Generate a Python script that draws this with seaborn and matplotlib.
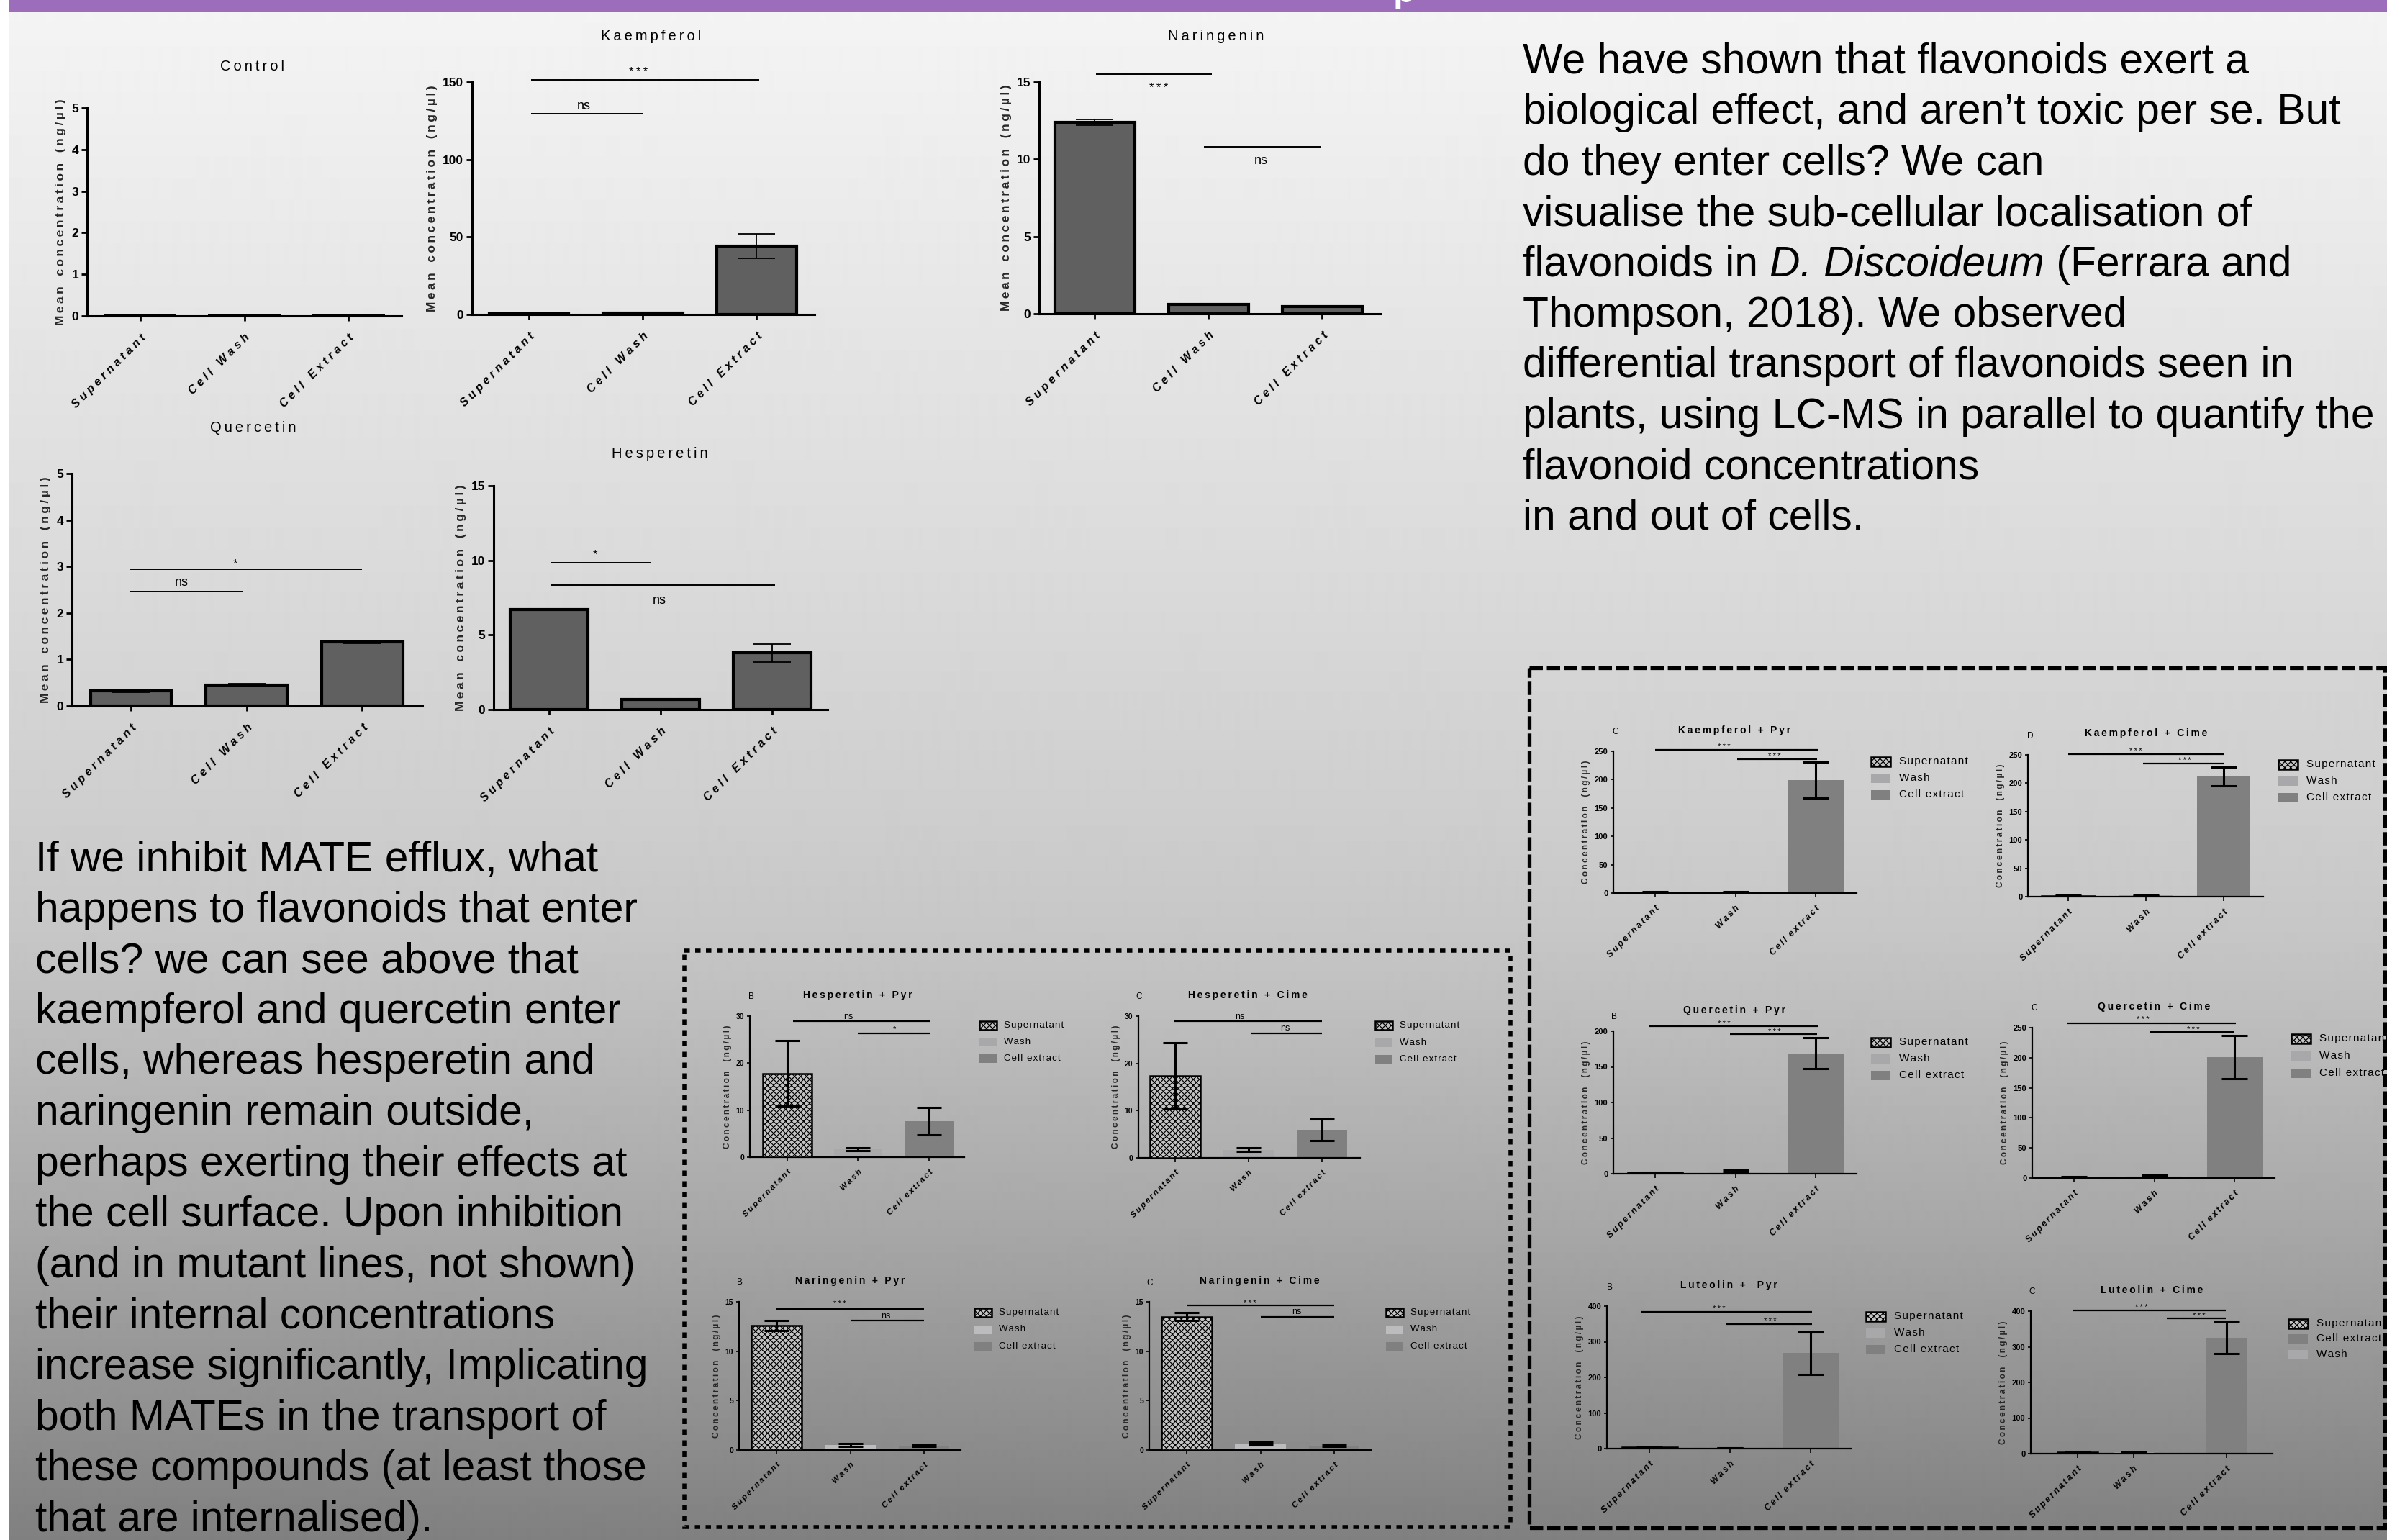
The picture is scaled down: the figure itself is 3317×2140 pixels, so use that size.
import numpy as np
import pandas as pd
import matplotlib
matplotlib.use("Agg")
import matplotlib.pyplot as plt
from matplotlib.patches import Rectangle
import seaborn as sns

# ---------------- data: top row (uptake of each flavonoid) ----------------
top_cats = ["Supernatant", "Cell Wash", "Cell Extract"]

control_mean = [0.0, 0.0, 0.0]
control_err = [0.0, 0.0, 0.0]
kaempferol_mean = [0.6, 1.0, 44.0]
kaempferol_err = [0.2, 0.3, 8.0]
naringenin_mean = [12.4, 0.6, 0.45]
naringenin_err = [0.2, 0.05, 0.05]
quercetin_mean = [0.33, 0.45, 1.37]
quercetin_err = [0.03, 0.03, 0.02]
hesperetin_mean = [6.7, 0.68, 3.8]
hesperetin_err = [0.05, 0.03, 0.6]

# significance bars: (x from, x to, height, label, label x, label y)
control_sig = []
kaempferol_sig = [(0.02, 2.02, 151.5, "***", 0.96, 156.5), (0.02, 1.0, 129.5, "ns", 0.48, 134.5)]
naringenin_sig = [(0.01, 1.03, 15.5, "***", 0.56, 14.6), (0.96, 1.99, 10.8, "ns", 1.46, 9.9)]
quercetin_sig = [(-0.01, 2.0, 2.94, "*", 0.9, 3.05), (-0.01, 0.97, 2.46, "ns", 0.44, 2.66)]
hesperetin_sig = [(0.01, 0.91, 9.84, "*", 0.41, 10.4), (0.01, 2.03, 8.34, "ns", 0.99, 7.33)]

# ---------------- data: MATE inhibitor panels ----------------
inh_cats = ["Supernatant", "Wash", "Cell extract"]

hesp_pyr_mean = [17.8, 1.7, 7.7]
hesp_pyr_err = [7.0, 0.3, 2.9]
hesp_cime_mean = [17.3, 1.7, 5.9]
hesp_cime_err = [7.0, 0.4, 2.3]
nar_pyr_mean = [12.6, 0.5, 0.45]
nar_pyr_err = [0.5, 0.12, 0.08]
nar_cime_mean = [13.5, 0.65, 0.45]
nar_cime_err = [0.4, 0.15, 0.1]
kaem_pyr_mean = [1.5, 1.5, 199.0]
kaem_pyr_err = [0.5, 0.5, 31.5]
kaem_cime_mean = [1.5, 2.0, 212.0]
kaem_cime_err = [0.5, 0.8, 17.0]
quer_pyr_mean = [2.0, 3.5, 169.0]
quer_pyr_err = [0.5, 1.5, 22.0]
quer_cime_mean = [1.5, 3.0, 201.0]
quer_cime_err = [0.5, 1.5, 36.0]
lut_pyr_mean = [3.5, 3.0, 268.0]
lut_pyr_err = [1.0, 0.0, 59.0]
lut_cime_mean = [4.0, 5.0, 326.0]
lut_cime_err = [1.5, 0.0, 45.0]
lut_cime_pos = [0.0, 0.75, 2.0]

hesp_pyr_sig = [(0.08, 2.01, 28.9, "ns", 0.86, 29.9), (1.0, 2.01, 26.4, "*", 1.51, 27.3)]
hesp_cime_sig = [(-0.02, 2.0, 28.9, "ns", 0.88, 29.9), (1.04, 2.0, 26.4, "ns", 1.5, 27.4)]
nar_pyr_sig = [(0.0, 2.0, 14.3, "***", 0.86, 14.75), (1.0, 2.0, 13.1, "ns", 1.48, 13.55)]
nar_cime_sig = [(0.0, 2.0, 14.6, "***", 0.86, 14.85), (1.0, 2.0, 13.5, "ns", 1.49, 13.95)]
kaem_pyr_sig = [(0.0, 2.03, 253, "***", 0.86, 257), (1.02, 2.02, 236.6, "***", 1.49, 240.6)]
kaem_cime_sig = [(0.0, 2.0, 251, "***", 0.87, 256), (0.96, 2.0, 235, "***", 1.5, 240)]
quer_pyr_sig = [(-0.08, 2.03, 207, "***", 0.86, 210.5), (0.93, 2.02, 196, "***", 1.49, 199)]
quer_cime_sig = [(-0.09, 2.02, 257.5, "***", 0.86, 263), (0.95, 2.0, 242.4, "***", 1.49, 246)]
lut_pyr_sig = [(-0.1, 2.02, 383, "***", 0.86, 392), (0.95, 2.02, 350, "***", 1.5, 358)]
lut_cime_sig = [(-0.06, 1.99, 403, "***", 0.86, 411), (1.2, 1.99, 379, "***", 1.63, 385)]

left_text = [
    "If we inhibit MATE efflux, what",
    "happens to flavonoids that enter",
    "cells? we can see above that",
    "kaempferol and quercetin enter",
    "cells, whereas hesperetin and",
    "naringenin remain outside,",
    "perhaps exerting their effects at",
    "the cell surface. Upon inhibition",
    "(and in mutant lines, not shown)",
    "their internal concentrations",
    "increase significantly, Implicating",
    "both MATEs in the transport of",
    "these compounds (at least those",
    "that are internalised).",
]
right_text = [
    "We have shown that flavonoids exert a",
    "biological effect, and aren\u2019t toxic per se. But",
    "do they enter cells? We can",
    "visualise the sub-cellular localisation of",
    None,
    "Thompson, 2018). We observed",
    "differential transport of flavonoids seen in",
    "plants, using LC-MS in parallel to quantify the",
    "flavonoid concentrations",
    "in and out of cells.",
]
italic_line = ("flavonoids in", "D. Discoideum", " (Ferrara and")

# ---------------- style ----------------
W, H = 3317, 2140
THIN = "\u2009"
HAIR = "\u200a"
BAR_DARK = "#606060"
SUP_FACE = "#c4c4c4"
WASH = "#a8a8ab"
WASH_LIGHT = "#bcbcbe"
EXTRACT = "#808080"

sns.set_theme(style="ticks")
plt.rcParams["font.family"] = ["Liberation Sans", "DejaVu Sans"]
plt.rcParams["hatch.linewidth"] = 0.9
plt.rcParams["axes.facecolor"] = "none"
plt.rcParams["axes.edgecolor"] = "black"
plt.rcParams["xtick.color"] = "black"
plt.rcParams["ytick.color"] = "black"
plt.rcParams["text.color"] = "black"


def sp(s, sep=" "):
    return sep.join(s)


def sp_words(s, sep=THIN, word_gap="  "):
    return word_gap.join(sp(w, sep) for w in s.split(" "))


fig = plt.figure(figsize=(W / 100, H / 100), dpi=100)

# background: grey gradient, white margin, purple header
bg = fig.add_axes([0, 0, 1, 1])
bg.set_zorder(-10)
bg.axis("off")
grad_y = [0, 100, 550, 800, 1130, 1300, 1700, 2140]
grad_v = [244, 241, 226, 218, 206, 198, 168, 128]
col = np.interp(np.arange(H), grad_y, grad_v) / 255.0
bg.imshow(np.repeat(col[:, None], 2, axis=1), cmap="gray", vmin=0, vmax=1,
          aspect="auto", extent=[0, W, H, 0], interpolation="bilinear")
bg.set_xlim(0, W)
bg.set_ylim(H, 0)
bg.add_patch(Rectangle((0, 0), 12, H, color="white", lw=0))
bg.add_patch(Rectangle((12, 0), W - 12, 16, color="#9b6dbb", lw=0))
bg.text(1936, 3, "p", color="white", fontsize=36, fontweight="bold", va="baseline", clip_on=True)

# dashed frames
bg.add_patch(Rectangle((951, 1321), 2099 - 951, 2122 - 1321, fill=False, edgecolor="black",
                       lw=4.0, linestyle=(0, (1.35, 1.35))))
bg.add_patch(Rectangle((2125, 928), 3314 - 2125, 2123 - 928, fill=False, edgecolor="black",
                       lw=3.8, linestyle=(0, (3.5, 1.05))))


def panel_ax(left, right, top, bottom):
    return fig.add_axes([left / W, 1 - bottom / H, (right - left) / W, (bottom - top) / H])


def style_ax(ax, spine_lw, ytick_len, xtick_len, tick_w, fs_tick):
    for s in ["top", "right"]:
        ax.spines[s].set_visible(False)
    for s in ["left", "bottom"]:
        ax.spines[s].set_linewidth(spine_lw)
        ax.spines[s].set_color("black")
    ax.tick_params(axis="y", length=ytick_len, width=tick_w, labelsize=fs_tick, pad=2.5)
    ax.tick_params(axis="x", length=xtick_len, width=tick_w)
    for t in ax.get_yticklabels():
        t.set_fontweight("bold")
    ax.patch.set_alpha(0)


def add_sig(ax, specs, lw, fs_ns, fs_star):
    for x1, x2, y, lab, lx, ly in specs:
        ax.plot([x1, x2], [y, y], color="black", lw=lw, clip_on=False, solid_capstyle="butt")
        star = lab.startswith("*")
        ax.text(lx, ly, sp(lab, THIN) if star else lab, ha="center", va="center",
                fontsize=fs_star if star else fs_ns, clip_on=False)


def top_panel(box, xlim, yticks, title, title_xy, means, errs, sig):
    ax = panel_ax(*box)
    sns.barplot(x=top_cats, y=means, hue=top_cats, order=top_cats, hue_order=top_cats,
                palette=[BAR_DARK] * 3, width=0.7, saturation=1, linewidth=3,
                edgecolor="black", legend=False, errorbar=None, ax=ax)
    if max(errs) > 0:
        ax.errorbar(range(3), means, yerr=errs, fmt="none", ecolor="black",
                    elinewidth=1.3, capsize=19, capthick=1.3, zorder=5)
    ax.set_xlim(*xlim)
    ax.set_ylim(0, yticks[-1])
    ax.set_yticks(yticks)
    ax.set_xticks(range(3), [sp(c) for c in top_cats], rotation=45, ha="right",
                  rotation_mode="anchor", fontsize=11.5, fontstyle="italic", fontweight="bold")
    ax.tick_params(axis="x", pad=11)
    ax.set_xlabel("")
    ax.set_ylabel(sp_words("Mean concentration (ng/µl)", THIN, "   "),
                  fontsize=12.5, fontweight="bold", labelpad=5)
    style_ax(ax, 2.2, 6, 5, 2.0, 12.5)
    add_sig(ax, sig, 1.4, 13, 12)
    bg.text(title_xy[0], title_xy[1], sp(title, THIN), ha="center", va="center", fontsize=14.5)
    return ax


top_panel((121, 558, 150, 439), (-0.51, 2.51), [0, 1, 2, 3, 4, 5], "Control", (351, 93),
          control_mean, control_err, control_sig)
top_panel((656, 1132, 114, 437), (-0.5, 2.51), [0, 50, 100, 150], "Kaempferol", (905, 51),
          kaempferol_mean, kaempferol_err, kaempferol_sig)
top_panel((1444, 1918, 114, 436), (-0.49, 2.51), [0, 5, 10, 15], "Naringenin", (1690, 51),
          naringenin_mean, naringenin_err, naringenin_sig)
top_panel((100, 587, 658, 981), (-0.51, 2.52), [0, 1, 2, 3, 4, 5], "Quercetin", (352, 594),
          quercetin_mean, quercetin_err, quercetin_sig)
top_panel((686, 1150, 675, 986), (-0.5, 2.5), [0, 5, 10, 15], "Hesperetin", (917, 630),
          hesperetin_mean, hesperetin_err, hesperetin_sig)


def legend_px(x, y0, dy, order, colors, fs, pw, ph, gap):
    for i, lab in enumerate(order):
        yc = y0 + i * dy
        if lab == "Supernatant":
            bg.add_patch(Rectangle((x, yc - ph / 2), pw, ph, facecolor=SUP_FACE, edgecolor="black",
                                   hatch="xxxx", lw=1.8))
        else:
            bg.add_patch(Rectangle((x, yc - ph / 2), pw, ph, facecolor=colors[lab], lw=0))
        bg.text(x + pw + gap, yc, sp(lab, HAIR), ha="left", va="center", fontsize=fs)


def inh_panel(box, xlim, yticks, title, title_xy, letter, letter_xy, means, errs, sig,
              leg_xy, leg_dy, big, wash=WASH, xpos=None, order=inh_cats):
    ax = panel_ax(*box)
    colors = [SUP_FACE, wash, EXTRACT]
    if xpos is None:
        sns.barplot(x=inh_cats, y=means, hue=inh_cats, order=inh_cats, hue_order=inh_cats,
                    palette=colors, width=0.69, saturation=1, linewidth=0, legend=False,
                    errorbar=None, dodge=False, ax=ax)
        xs = np.arange(3)
    else:
        sns.barplot(x=xpos, y=means, hue=inh_cats, hue_order=inh_cats, native_scale=True,
                    palette=colors, width=0.72, saturation=1, linewidth=0, legend=False,
                    errorbar=None, dodge=False, ax=ax)
        xs = np.array(xpos)
    sup = ax.patches[0]
    sup.set_hatch("xxxx")
    sup.set_edgecolor("black")
    sup.set_linewidth(1.8)
    sup.set_zorder(3)
    ax.errorbar(xs, means, yerr=errs, fmt="none", ecolor="black", elinewidth=2.2,
                capsize=13 if big else 12, capthick=2.2, zorder=5)
    ax.set_xlim(*xlim)
    ax.set_ylim(0, yticks[-1])
    ax.set_yticks(yticks)
    fs_x = 8.8 if big else 8.2
    ax.set_xticks(xs, [sp_words(c, THIN, "  ") for c in inh_cats], rotation=45, ha="right",
                  rotation_mode="anchor", fontsize=fs_x, fontstyle="italic", fontweight="bold")
    ax.tick_params(axis="x", pad=7)
    ax.set_xlabel("")
    ax.set_ylabel(sp_words("Concentration  (ng/µl)", THIN, "  "), fontsize=8.5,
                  fontweight="bold", labelpad=4)
    style_ax(ax, 1.6, 3, 4, 1.2, 8 if big else 7.5)
    add_sig(ax, sig, 1.6, 9, 8)
    bg.text(title_xy[0], title_xy[1], sp(title, THIN), ha="center", va="center",
            fontsize=10, fontweight="bold")
    bg.text(letter_xy[0], letter_xy[1], letter, ha="center", va="center", fontsize=8.5)
    legend_px(leg_xy[0], leg_xy[1], leg_dy, order,
              {"Wash": wash, "Cell extract": EXTRACT},
              11 if big else 9.5, 27 if big else 24, 13 if big else 12, 12 if big else 10)
    return ax


# middle frame (hesperetin / naringenin)
inh_panel((1042, 1340, 1412, 1608), (-0.53, 2.5), [0, 10, 20, 30], "Hesperetin + Pyr", (1192, 1383),
          "B", (1044, 1385), hesp_pyr_mean, hesp_pyr_err, hesp_pyr_sig, (1361, 1425), 23, False)
inh_panel((1582, 1890, 1412, 1609), (-0.5, 2.52), [0, 10, 20, 30], "Hesperetin + Cime", (1734, 1383),
          "C", (1583, 1385), hesp_cime_mean, hesp_cime_err, hesp_cime_sig, (1911, 1425), 23.5, False)
inh_panel((1027, 1335, 1809, 2015), (-0.51, 2.5), [0, 5, 10, 15], "Naringenin + Pyr", (1181, 1780),
          "B", (1028, 1782), nar_pyr_mean, nar_pyr_err, nar_pyr_sig, (1354, 1824), 23.5, False,
          wash=WASH_LIGHT)
inh_panel((1597, 1905, 1809, 2015), (-0.51, 2.5), [0, 5, 10, 15], "Naringenin + Cime", (1750, 1780),
          "C", (1598, 1783), nar_cime_mean, nar_cime_err, nar_cime_sig, (1926, 1824), 23.5, False,
          wash=WASH_LIGHT)

# right frame (kaempferol / quercetin / luteolin)
inh_panel((2242, 2580, 1044, 1241), (-0.52, 2.51), [0, 50, 100, 150, 200, 250], "Kaempferol + Pyr",
          (2410, 1015), "C", (2245, 1017), kaem_pyr_mean, kaem_pyr_err, kaem_pyr_sig, (2600, 1058), 23, True)
inh_panel((2818, 3145, 1049, 1246), (-0.52, 2.51), [0, 50, 100, 150, 200, 250], "Kaempferol + Cime",
          (2982, 1019), "D", (2821, 1023), kaem_cime_mean, kaem_cime_err, kaem_cime_sig, (3166, 1062), 23, True)
inh_panel((2242, 2580, 1433, 1631), (-0.52, 2.51), [0, 50, 100, 150, 200], "Quercetin + Pyr",
          (2410, 1404), "B", (2243, 1413), quer_pyr_mean, quer_pyr_err, quer_pyr_sig, (2600, 1448), 23, True)
inh_panel((2824, 3161, 1428, 1637), (-0.52, 2.5), [0, 50, 100, 150, 200, 250], "Quercetin + Cime",
          (2993, 1399), "C", (2827, 1401), quer_cime_mean, quer_cime_err, quer_cime_sig, (3184, 1443), 24, True)
inh_panel((2233, 2572, 1815, 2013), (-0.53, 2.5), [0, 100, 200, 300, 400], "Luteolin +  Pyr",
          (2402, 1786), "B", (2237, 1789), lut_pyr_mean, lut_pyr_err, lut_pyr_sig, (2593, 1829), 23, True)
inh_panel((2822, 3158, 1822, 2020), (-0.63, 2.62), [0, 100, 200, 300, 400], "Luteolin + Cime",
          (2990, 1793), "C", (2824, 1795), lut_cime_mean, lut_cime_err, lut_cime_sig, (3180, 1839), 21.5, True,
          xpos=lut_cime_pos, order=["Supernatant", "Cell extract", "Wash"])

# body text
BODY_FS = 42.3
for i, line in enumerate(left_text):
    bg.text(49, 1210 + i * 70.6, line, fontsize=BODY_FS, va="baseline", ha="left")

renderer = fig.canvas.get_renderer()
for i, line in enumerate(right_text):
    yb = 102 + i * 70.4
    if line is not None:
        bg.text(2116, yb, line, fontsize=BODY_FS, va="baseline", ha="left")
        continue
    t1 = bg.text(2116, yb, italic_line[0], fontsize=BODY_FS, va="baseline", ha="left")
    w1 = t1.get_window_extent(renderer).width + 0.278 * BODY_FS * 100 / 72
    t2 = bg.text(2116 + w1, yb, italic_line[1], fontsize=BODY_FS, va="baseline", ha="left",
                 fontstyle="italic")
    w2 = t2.get_window_extent(renderer).width
    bg.text(2116 + w1 + w2, yb, italic_line[2], fontsize=BODY_FS, va="baseline", ha="left")

fig.savefig("out.png", dpi=100)
